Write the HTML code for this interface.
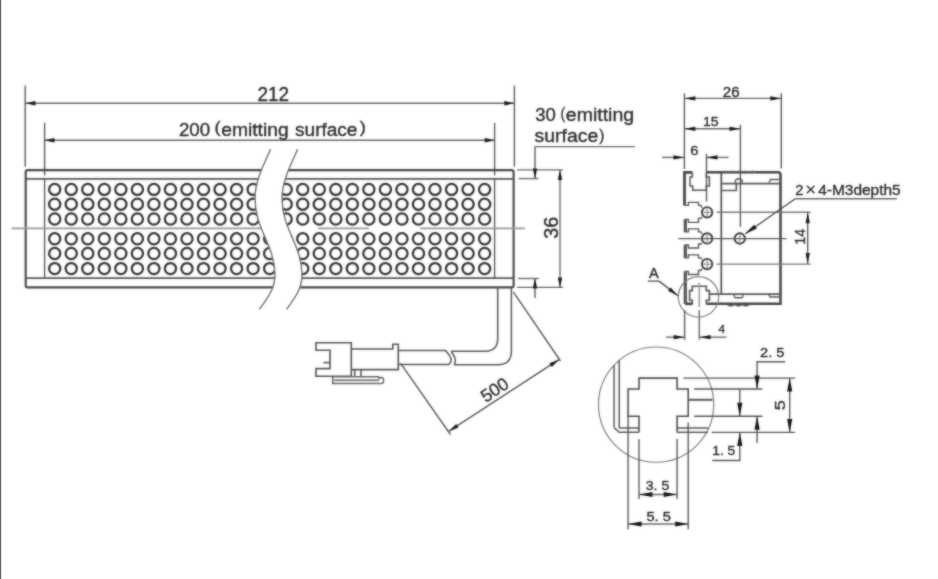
<!DOCTYPE html>
<html><head><meta charset="utf-8"><style>
html,body{margin:0;padding:0;background:#fff;}
svg{display:block;}

text{font-family:"Liberation Sans",sans-serif;}
</style></head><body>
<div style="position:absolute;left:0;top:0;width:1px;height:579px;background:#666;border-right:1px solid #e2e2e2;box-sizing:content-box"></div>
<div id="w"><svg width="938" height="579" viewBox="0 0 938 579">
<defs><filter id="f" filterUnits="userSpaceOnUse" x="0" y="0" width="938" height="579"><feGaussianBlur in="SourceGraphic" stdDeviation="1" result="b"/><feComposite in="SourceGraphic" in2="b" operator="arithmetic" k1="0" k2="0.45" k3="0.55" k4="0"/></filter></defs>
<g filter="url(#f)">
<line x1="25.2" y1="85.5" x2="25.2" y2="166.7" stroke="#555" stroke-width="1.375"/>
<line x1="514.4" y1="85.5" x2="514.4" y2="166.7" stroke="#555" stroke-width="1.375"/>
<line x1="44.6" y1="122.8" x2="44.6" y2="175.4" stroke="#555" stroke-width="1.375"/>
<line x1="494.6" y1="122.8" x2="494.6" y2="175.4" stroke="#555" stroke-width="1.375"/>
<line x1="25.5" y1="103.3" x2="514.3" y2="103.3" stroke="#666" stroke-width="1.375"/>
<polygon points="25.50,103.30 35.50,101.10 35.50,105.50" fill="#151515"/>
<polygon points="514.30,103.30 504.30,105.50 504.30,101.10" fill="#151515"/>
<line x1="44.5" y1="140.3" x2="494.7" y2="140.3" stroke="#666" stroke-width="1.375"/>
<polygon points="44.50,140.30 54.50,138.10 54.50,142.50" fill="#151515"/>
<polygon points="494.70,140.30 484.70,142.50 484.70,138.10" fill="#151515"/>
<rect x="25.7" y="170.1" width="487.9" height="117.3" rx="2" fill="none" stroke="#444" stroke-width="2.1"/>
<line x1="25.7" y1="178.9" x2="513.6" y2="178.9" stroke="#555" stroke-width="1.75"/>
<line x1="25.7" y1="278.2" x2="513.6" y2="278.2" stroke="#555" stroke-width="1.75"/>
<line x1="44.6" y1="178.7" x2="44.6" y2="278.4" stroke="#555" stroke-width="1.375"/>
<line x1="494.6" y1="178.7" x2="494.6" y2="278.4" stroke="#555" stroke-width="1.375"/>
<circle cx="54.7" cy="189.4" r="5.6" stroke="#333" stroke-width="2.25" fill="none"/>
<circle cx="54.7" cy="204.2" r="5.6" stroke="#333" stroke-width="2.25" fill="none"/>
<circle cx="54.7" cy="219.0" r="5.6" stroke="#333" stroke-width="2.25" fill="none"/>
<circle cx="54.7" cy="238.8" r="5.6" stroke="#333" stroke-width="2.25" fill="none"/>
<circle cx="54.7" cy="253.5" r="5.6" stroke="#333" stroke-width="2.25" fill="none"/>
<circle cx="54.7" cy="268.6" r="5.6" stroke="#333" stroke-width="2.25" fill="none"/>
<circle cx="71.23" cy="189.4" r="5.6" stroke="#333" stroke-width="2.25" fill="none"/>
<circle cx="71.23" cy="204.2" r="5.6" stroke="#333" stroke-width="2.25" fill="none"/>
<circle cx="71.23" cy="219.0" r="5.6" stroke="#333" stroke-width="2.25" fill="none"/>
<circle cx="71.23" cy="238.8" r="5.6" stroke="#333" stroke-width="2.25" fill="none"/>
<circle cx="71.23" cy="253.5" r="5.6" stroke="#333" stroke-width="2.25" fill="none"/>
<circle cx="71.23" cy="268.6" r="5.6" stroke="#333" stroke-width="2.25" fill="none"/>
<circle cx="87.77" cy="189.4" r="5.6" stroke="#333" stroke-width="2.25" fill="none"/>
<circle cx="87.77" cy="204.2" r="5.6" stroke="#333" stroke-width="2.25" fill="none"/>
<circle cx="87.77" cy="219.0" r="5.6" stroke="#333" stroke-width="2.25" fill="none"/>
<circle cx="87.77" cy="238.8" r="5.6" stroke="#333" stroke-width="2.25" fill="none"/>
<circle cx="87.77" cy="253.5" r="5.6" stroke="#333" stroke-width="2.25" fill="none"/>
<circle cx="87.77" cy="268.6" r="5.6" stroke="#333" stroke-width="2.25" fill="none"/>
<circle cx="104.31" cy="189.4" r="5.6" stroke="#333" stroke-width="2.25" fill="none"/>
<circle cx="104.31" cy="204.2" r="5.6" stroke="#333" stroke-width="2.25" fill="none"/>
<circle cx="104.31" cy="219.0" r="5.6" stroke="#333" stroke-width="2.25" fill="none"/>
<circle cx="104.31" cy="238.8" r="5.6" stroke="#333" stroke-width="2.25" fill="none"/>
<circle cx="104.31" cy="253.5" r="5.6" stroke="#333" stroke-width="2.25" fill="none"/>
<circle cx="104.31" cy="268.6" r="5.6" stroke="#333" stroke-width="2.25" fill="none"/>
<circle cx="120.84" cy="189.4" r="5.6" stroke="#333" stroke-width="2.25" fill="none"/>
<circle cx="120.84" cy="204.2" r="5.6" stroke="#333" stroke-width="2.25" fill="none"/>
<circle cx="120.84" cy="219.0" r="5.6" stroke="#333" stroke-width="2.25" fill="none"/>
<circle cx="120.84" cy="238.8" r="5.6" stroke="#333" stroke-width="2.25" fill="none"/>
<circle cx="120.84" cy="253.5" r="5.6" stroke="#333" stroke-width="2.25" fill="none"/>
<circle cx="120.84" cy="268.6" r="5.6" stroke="#333" stroke-width="2.25" fill="none"/>
<circle cx="137.38" cy="189.4" r="5.6" stroke="#333" stroke-width="2.25" fill="none"/>
<circle cx="137.38" cy="204.2" r="5.6" stroke="#333" stroke-width="2.25" fill="none"/>
<circle cx="137.38" cy="219.0" r="5.6" stroke="#333" stroke-width="2.25" fill="none"/>
<circle cx="137.38" cy="238.8" r="5.6" stroke="#333" stroke-width="2.25" fill="none"/>
<circle cx="137.38" cy="253.5" r="5.6" stroke="#333" stroke-width="2.25" fill="none"/>
<circle cx="137.38" cy="268.6" r="5.6" stroke="#333" stroke-width="2.25" fill="none"/>
<circle cx="153.91" cy="189.4" r="5.6" stroke="#333" stroke-width="2.25" fill="none"/>
<circle cx="153.91" cy="204.2" r="5.6" stroke="#333" stroke-width="2.25" fill="none"/>
<circle cx="153.91" cy="219.0" r="5.6" stroke="#333" stroke-width="2.25" fill="none"/>
<circle cx="153.91" cy="238.8" r="5.6" stroke="#333" stroke-width="2.25" fill="none"/>
<circle cx="153.91" cy="253.5" r="5.6" stroke="#333" stroke-width="2.25" fill="none"/>
<circle cx="153.91" cy="268.6" r="5.6" stroke="#333" stroke-width="2.25" fill="none"/>
<circle cx="170.44" cy="189.4" r="5.6" stroke="#333" stroke-width="2.25" fill="none"/>
<circle cx="170.44" cy="204.2" r="5.6" stroke="#333" stroke-width="2.25" fill="none"/>
<circle cx="170.44" cy="219.0" r="5.6" stroke="#333" stroke-width="2.25" fill="none"/>
<circle cx="170.44" cy="238.8" r="5.6" stroke="#333" stroke-width="2.25" fill="none"/>
<circle cx="170.44" cy="253.5" r="5.6" stroke="#333" stroke-width="2.25" fill="none"/>
<circle cx="170.44" cy="268.6" r="5.6" stroke="#333" stroke-width="2.25" fill="none"/>
<circle cx="186.98" cy="189.4" r="5.6" stroke="#333" stroke-width="2.25" fill="none"/>
<circle cx="186.98" cy="204.2" r="5.6" stroke="#333" stroke-width="2.25" fill="none"/>
<circle cx="186.98" cy="219.0" r="5.6" stroke="#333" stroke-width="2.25" fill="none"/>
<circle cx="186.98" cy="238.8" r="5.6" stroke="#333" stroke-width="2.25" fill="none"/>
<circle cx="186.98" cy="253.5" r="5.6" stroke="#333" stroke-width="2.25" fill="none"/>
<circle cx="186.98" cy="268.6" r="5.6" stroke="#333" stroke-width="2.25" fill="none"/>
<circle cx="203.51" cy="189.4" r="5.6" stroke="#333" stroke-width="2.25" fill="none"/>
<circle cx="203.51" cy="204.2" r="5.6" stroke="#333" stroke-width="2.25" fill="none"/>
<circle cx="203.51" cy="219.0" r="5.6" stroke="#333" stroke-width="2.25" fill="none"/>
<circle cx="203.51" cy="238.8" r="5.6" stroke="#333" stroke-width="2.25" fill="none"/>
<circle cx="203.51" cy="253.5" r="5.6" stroke="#333" stroke-width="2.25" fill="none"/>
<circle cx="203.51" cy="268.6" r="5.6" stroke="#333" stroke-width="2.25" fill="none"/>
<circle cx="220.05" cy="189.4" r="5.6" stroke="#333" stroke-width="2.25" fill="none"/>
<circle cx="220.05" cy="204.2" r="5.6" stroke="#333" stroke-width="2.25" fill="none"/>
<circle cx="220.05" cy="219.0" r="5.6" stroke="#333" stroke-width="2.25" fill="none"/>
<circle cx="220.05" cy="238.8" r="5.6" stroke="#333" stroke-width="2.25" fill="none"/>
<circle cx="220.05" cy="253.5" r="5.6" stroke="#333" stroke-width="2.25" fill="none"/>
<circle cx="220.05" cy="268.6" r="5.6" stroke="#333" stroke-width="2.25" fill="none"/>
<circle cx="236.58" cy="189.4" r="5.6" stroke="#333" stroke-width="2.25" fill="none"/>
<circle cx="236.58" cy="204.2" r="5.6" stroke="#333" stroke-width="2.25" fill="none"/>
<circle cx="236.58" cy="219.0" r="5.6" stroke="#333" stroke-width="2.25" fill="none"/>
<circle cx="236.58" cy="238.8" r="5.6" stroke="#333" stroke-width="2.25" fill="none"/>
<circle cx="236.58" cy="253.5" r="5.6" stroke="#333" stroke-width="2.25" fill="none"/>
<circle cx="236.58" cy="268.6" r="5.6" stroke="#333" stroke-width="2.25" fill="none"/>
<circle cx="253.12" cy="189.4" r="5.6" stroke="#333" stroke-width="2.25" fill="none"/>
<circle cx="253.12" cy="204.2" r="5.6" stroke="#333" stroke-width="2.25" fill="none"/>
<circle cx="253.12" cy="219.0" r="5.6" stroke="#333" stroke-width="2.25" fill="none"/>
<circle cx="253.12" cy="238.8" r="5.6" stroke="#333" stroke-width="2.25" fill="none"/>
<circle cx="253.12" cy="253.5" r="5.6" stroke="#333" stroke-width="2.25" fill="none"/>
<circle cx="253.12" cy="268.6" r="5.6" stroke="#333" stroke-width="2.25" fill="none"/>
<circle cx="269.66" cy="189.4" r="5.6" stroke="#333" stroke-width="2.25" fill="none"/>
<circle cx="269.66" cy="204.2" r="5.6" stroke="#333" stroke-width="2.25" fill="none"/>
<circle cx="269.66" cy="219.0" r="5.6" stroke="#333" stroke-width="2.25" fill="none"/>
<circle cx="269.66" cy="238.8" r="5.6" stroke="#333" stroke-width="2.25" fill="none"/>
<circle cx="269.66" cy="253.5" r="5.6" stroke="#333" stroke-width="2.25" fill="none"/>
<circle cx="269.66" cy="268.6" r="5.6" stroke="#333" stroke-width="2.25" fill="none"/>
<circle cx="286.19" cy="189.4" r="5.6" stroke="#333" stroke-width="2.25" fill="none"/>
<circle cx="286.19" cy="204.2" r="5.6" stroke="#333" stroke-width="2.25" fill="none"/>
<circle cx="286.19" cy="219.0" r="5.6" stroke="#333" stroke-width="2.25" fill="none"/>
<circle cx="286.19" cy="238.8" r="5.6" stroke="#333" stroke-width="2.25" fill="none"/>
<circle cx="286.19" cy="253.5" r="5.6" stroke="#333" stroke-width="2.25" fill="none"/>
<circle cx="286.19" cy="268.6" r="5.6" stroke="#333" stroke-width="2.25" fill="none"/>
<circle cx="302.73" cy="189.4" r="5.6" stroke="#333" stroke-width="2.25" fill="none"/>
<circle cx="302.73" cy="204.2" r="5.6" stroke="#333" stroke-width="2.25" fill="none"/>
<circle cx="302.73" cy="219.0" r="5.6" stroke="#333" stroke-width="2.25" fill="none"/>
<circle cx="302.73" cy="238.8" r="5.6" stroke="#333" stroke-width="2.25" fill="none"/>
<circle cx="302.73" cy="253.5" r="5.6" stroke="#333" stroke-width="2.25" fill="none"/>
<circle cx="302.73" cy="268.6" r="5.6" stroke="#333" stroke-width="2.25" fill="none"/>
<circle cx="319.26" cy="189.4" r="5.6" stroke="#333" stroke-width="2.25" fill="none"/>
<circle cx="319.26" cy="204.2" r="5.6" stroke="#333" stroke-width="2.25" fill="none"/>
<circle cx="319.26" cy="219.0" r="5.6" stroke="#333" stroke-width="2.25" fill="none"/>
<circle cx="319.26" cy="238.8" r="5.6" stroke="#333" stroke-width="2.25" fill="none"/>
<circle cx="319.26" cy="253.5" r="5.6" stroke="#333" stroke-width="2.25" fill="none"/>
<circle cx="319.26" cy="268.6" r="5.6" stroke="#333" stroke-width="2.25" fill="none"/>
<circle cx="335.8" cy="189.4" r="5.6" stroke="#333" stroke-width="2.25" fill="none"/>
<circle cx="335.8" cy="204.2" r="5.6" stroke="#333" stroke-width="2.25" fill="none"/>
<circle cx="335.8" cy="219.0" r="5.6" stroke="#333" stroke-width="2.25" fill="none"/>
<circle cx="335.8" cy="238.8" r="5.6" stroke="#333" stroke-width="2.25" fill="none"/>
<circle cx="335.8" cy="253.5" r="5.6" stroke="#333" stroke-width="2.25" fill="none"/>
<circle cx="335.8" cy="268.6" r="5.6" stroke="#333" stroke-width="2.25" fill="none"/>
<circle cx="352.33" cy="189.4" r="5.6" stroke="#333" stroke-width="2.25" fill="none"/>
<circle cx="352.33" cy="204.2" r="5.6" stroke="#333" stroke-width="2.25" fill="none"/>
<circle cx="352.33" cy="219.0" r="5.6" stroke="#333" stroke-width="2.25" fill="none"/>
<circle cx="352.33" cy="238.8" r="5.6" stroke="#333" stroke-width="2.25" fill="none"/>
<circle cx="352.33" cy="253.5" r="5.6" stroke="#333" stroke-width="2.25" fill="none"/>
<circle cx="352.33" cy="268.6" r="5.6" stroke="#333" stroke-width="2.25" fill="none"/>
<circle cx="368.87" cy="189.4" r="5.6" stroke="#333" stroke-width="2.25" fill="none"/>
<circle cx="368.87" cy="204.2" r="5.6" stroke="#333" stroke-width="2.25" fill="none"/>
<circle cx="368.87" cy="219.0" r="5.6" stroke="#333" stroke-width="2.25" fill="none"/>
<circle cx="368.87" cy="238.8" r="5.6" stroke="#333" stroke-width="2.25" fill="none"/>
<circle cx="368.87" cy="253.5" r="5.6" stroke="#333" stroke-width="2.25" fill="none"/>
<circle cx="368.87" cy="268.6" r="5.6" stroke="#333" stroke-width="2.25" fill="none"/>
<circle cx="385.4" cy="189.4" r="5.6" stroke="#333" stroke-width="2.25" fill="none"/>
<circle cx="385.4" cy="204.2" r="5.6" stroke="#333" stroke-width="2.25" fill="none"/>
<circle cx="385.4" cy="219.0" r="5.6" stroke="#333" stroke-width="2.25" fill="none"/>
<circle cx="385.4" cy="238.8" r="5.6" stroke="#333" stroke-width="2.25" fill="none"/>
<circle cx="385.4" cy="253.5" r="5.6" stroke="#333" stroke-width="2.25" fill="none"/>
<circle cx="385.4" cy="268.6" r="5.6" stroke="#333" stroke-width="2.25" fill="none"/>
<circle cx="401.94" cy="189.4" r="5.6" stroke="#333" stroke-width="2.25" fill="none"/>
<circle cx="401.94" cy="204.2" r="5.6" stroke="#333" stroke-width="2.25" fill="none"/>
<circle cx="401.94" cy="219.0" r="5.6" stroke="#333" stroke-width="2.25" fill="none"/>
<circle cx="401.94" cy="238.8" r="5.6" stroke="#333" stroke-width="2.25" fill="none"/>
<circle cx="401.94" cy="253.5" r="5.6" stroke="#333" stroke-width="2.25" fill="none"/>
<circle cx="401.94" cy="268.6" r="5.6" stroke="#333" stroke-width="2.25" fill="none"/>
<circle cx="418.47" cy="189.4" r="5.6" stroke="#333" stroke-width="2.25" fill="none"/>
<circle cx="418.47" cy="204.2" r="5.6" stroke="#333" stroke-width="2.25" fill="none"/>
<circle cx="418.47" cy="219.0" r="5.6" stroke="#333" stroke-width="2.25" fill="none"/>
<circle cx="418.47" cy="238.8" r="5.6" stroke="#333" stroke-width="2.25" fill="none"/>
<circle cx="418.47" cy="253.5" r="5.6" stroke="#333" stroke-width="2.25" fill="none"/>
<circle cx="418.47" cy="268.6" r="5.6" stroke="#333" stroke-width="2.25" fill="none"/>
<circle cx="435.0" cy="189.4" r="5.6" stroke="#333" stroke-width="2.25" fill="none"/>
<circle cx="435.0" cy="204.2" r="5.6" stroke="#333" stroke-width="2.25" fill="none"/>
<circle cx="435.0" cy="219.0" r="5.6" stroke="#333" stroke-width="2.25" fill="none"/>
<circle cx="435.0" cy="238.8" r="5.6" stroke="#333" stroke-width="2.25" fill="none"/>
<circle cx="435.0" cy="253.5" r="5.6" stroke="#333" stroke-width="2.25" fill="none"/>
<circle cx="435.0" cy="268.6" r="5.6" stroke="#333" stroke-width="2.25" fill="none"/>
<circle cx="451.54" cy="189.4" r="5.6" stroke="#333" stroke-width="2.25" fill="none"/>
<circle cx="451.54" cy="204.2" r="5.6" stroke="#333" stroke-width="2.25" fill="none"/>
<circle cx="451.54" cy="219.0" r="5.6" stroke="#333" stroke-width="2.25" fill="none"/>
<circle cx="451.54" cy="238.8" r="5.6" stroke="#333" stroke-width="2.25" fill="none"/>
<circle cx="451.54" cy="253.5" r="5.6" stroke="#333" stroke-width="2.25" fill="none"/>
<circle cx="451.54" cy="268.6" r="5.6" stroke="#333" stroke-width="2.25" fill="none"/>
<circle cx="468.07" cy="189.4" r="5.6" stroke="#333" stroke-width="2.25" fill="none"/>
<circle cx="468.07" cy="204.2" r="5.6" stroke="#333" stroke-width="2.25" fill="none"/>
<circle cx="468.07" cy="219.0" r="5.6" stroke="#333" stroke-width="2.25" fill="none"/>
<circle cx="468.07" cy="238.8" r="5.6" stroke="#333" stroke-width="2.25" fill="none"/>
<circle cx="468.07" cy="253.5" r="5.6" stroke="#333" stroke-width="2.25" fill="none"/>
<circle cx="468.07" cy="268.6" r="5.6" stroke="#333" stroke-width="2.25" fill="none"/>
<circle cx="484.61" cy="189.4" r="5.6" stroke="#333" stroke-width="2.25" fill="none"/>
<circle cx="484.61" cy="204.2" r="5.6" stroke="#333" stroke-width="2.25" fill="none"/>
<circle cx="484.61" cy="219.0" r="5.6" stroke="#333" stroke-width="2.25" fill="none"/>
<circle cx="484.61" cy="238.8" r="5.6" stroke="#333" stroke-width="2.25" fill="none"/>
<circle cx="484.61" cy="253.5" r="5.6" stroke="#333" stroke-width="2.25" fill="none"/>
<circle cx="484.61" cy="268.6" r="5.6" stroke="#333" stroke-width="2.25" fill="none"/>
<line x1="11.5" y1="228.4" x2="267" y2="228.4" stroke="#999" stroke-width="1.875"/>
<line x1="318" y1="228.4" x2="369" y2="228.4" stroke="#999" stroke-width="1.875"/>
<line x1="420" y1="228.4" x2="525" y2="228.4" stroke="#999" stroke-width="1.875"/>
<path d="M270.6,149.3 C263,166 255,182 255,198 C255,230 275,245 275,275 C275,290 266,300 259.4,309.4 L286.4,309.4 C293.0,300 302.0,290 302.0,275 C302.0,245 282.0,230 282.0,198 C282.0,182 290.0,166 297.6,149.3 Z" fill="#fff" stroke="none"/>
<path d="M270.6,149.3 C263,166 255,182 255,198 C255,230 275,245 275,275 C275,290 266,300 259.4,309.4" stroke="#555" stroke-width="1.375" fill="none"/>
<path d="M297.6,149.3 C290.0,166 282.0,182 282.0,198 C282.0,230 302.0,245 302.0,275 C302.0,290 293.0,300 286.4,309.4" stroke="#555" stroke-width="1.375" fill="none"/>
<line x1="517" y1="169.9" x2="563" y2="169.9" stroke="#666" stroke-width="1.375"/>
<line x1="518.5" y1="178.6" x2="538.5" y2="178.6" stroke="#666" stroke-width="1.375"/>
<line x1="518" y1="278.5" x2="539" y2="278.5" stroke="#666" stroke-width="1.375"/>
<line x1="517" y1="287.4" x2="563" y2="287.4" stroke="#666" stroke-width="1.375"/>
<line x1="560" y1="170" x2="560" y2="287.4" stroke="#666" stroke-width="1.375"/>
<polygon points="560.00,170.00 562.20,180.00 557.80,180.00" fill="#151515"/>
<polygon points="560.00,287.40 557.80,277.40 562.20,277.40" fill="#151515"/>
<text x="0" y="0" font-size="100" fill="#2b2b2b" stroke="#2b2b2b" stroke-width="1.77" transform="translate(551,227.7) rotate(-90) scale(0.19709,0.19718) translate(-55.5,34.5)">36</text>
<line x1="535" y1="146.6" x2="535" y2="178.6" stroke="#555" stroke-width="1.375"/>
<polygon points="535.00,178.60 532.80,168.60 537.20,168.60" fill="#151515"/>
<line x1="535" y1="146.6" x2="635" y2="146.6" stroke="#666" stroke-width="1.375"/>
<line x1="535" y1="278.5" x2="535" y2="298" stroke="#555" stroke-width="1.375"/>
<polygon points="535.00,278.50 537.20,288.50 532.80,288.50" fill="#151515"/>
<text x="0" y="0" font-size="100" fill="#2b2b2b" stroke="#2b2b2b" stroke-width="1.94" transform="translate(535.158,121.220) scale(0.18544,0.18028)">30</text>
<text x="0" y="0" font-size="100" fill="#2b2b2b" stroke="#2b2b2b" stroke-width="2.14" transform="translate(560.446,119.160) scale(0.14231,0.16383)">(</text>
<text x="0" y="0" font-size="100" fill="#2b2b2b" stroke="#2b2b2b" stroke-width="1.94" transform="translate(565.819,121.220) scale(0.19529,0.18028)">emitting</text>
<text x="0" y="0" font-size="100" fill="#2b2b2b" stroke="#2b2b2b" stroke-width="1.94" transform="translate(534.618,142.220) scale(0.19406,0.18028)">surface</text>
<text x="0" y="0" font-size="100" fill="#2b2b2b" stroke="#2b2b2b" stroke-width="2.12" transform="translate(599.346,140.737) scale(0.15385,0.16489)">)</text>
<text x="0" y="0" font-size="100" fill="#2b2b2b" stroke="#2b2b2b" stroke-width="1.76" transform="translate(257.554,101.100) scale(0.18917,0.19857)">212</text>
<text x="0" y="0" font-size="100" fill="#2b2b2b" stroke="#2b2b2b" stroke-width="1.87" transform="translate(178.966,135.713) scale(0.18671,0.18732)">200</text>
<text x="0" y="0" font-size="100" fill="#2b2b2b" stroke="#2b2b2b" stroke-width="2.12" transform="translate(214.515,133.237) scale(0.18077,0.16489)">(</text>
<text x="0" y="0" font-size="100" fill="#2b2b2b" stroke="#2b2b2b" stroke-width="1.87" transform="translate(221.229,135.713) scale(0.19265,0.18732)">emitting</text>
<text x="0" y="0" font-size="100" fill="#2b2b2b" stroke="#2b2b2b" stroke-width="1.87" transform="translate(295.028,135.713) scale(0.19062,0.18732)">surface</text>
<text x="0" y="0" font-size="100" fill="#2b2b2b" stroke="#2b2b2b" stroke-width="2.12" transform="translate(359.715,133.237) scale(0.18462,0.16489)">)</text>
<path d="M497.7,287.4 L497.7,338.5 Q497.7,351.2 485,351.2 L451.1,351.2" stroke="#555" stroke-width="1.5" fill="none"/>
<path d="M511.4,287.4 L511.4,351 Q511.4,364.7 497.7,364.7 L454.2,364.7" stroke="#555" stroke-width="1.5" fill="none"/>
<path d="M451.1,351.2 C453,354 456,358 455.4,361 C455,363 454.5,364 454.2,364.7" stroke="#555" stroke-width="1.5" fill="none"/>
<path d="M398.3,350.6 L445.5,350.6 C448,353 451.5,358 451.2,360.2 C451,362 449.5,364 448.7,364.6 L398.3,364.6" stroke="#555" stroke-width="1.5" fill="none"/>
<polygon points="316,342.7 351.3,342.7 351.3,376.3 316,376.3 316,368.6 330,368.6 330,350.2 316,350.2" stroke="#555" stroke-width="1.625" fill="none" stroke-linejoin="miter"/>
<line x1="323.3" y1="362.6" x2="330" y2="362.6" stroke="#555" stroke-width="1.625"/>
<polyline points="351.3,349 392.8,349 392.8,344.3 398.3,344.3 398.3,369.6 351.3,369.6" stroke="#555" stroke-width="1.625" fill="none" stroke-linejoin="miter"/>
<polyline points="354.7,369.6 354.7,376.3" stroke="#555" stroke-width="1.5" fill="none" stroke-linejoin="miter"/>
<polyline points="361,369.6 361,376.6" stroke="#555" stroke-width="1.5" fill="none" stroke-linejoin="miter"/>
<path d="M332.7,376.8 L378.5,376.8 L379.5,378.6 Q380.5,377.2 382.4,377.6 Q383.8,378.5 383.6,381 Q383.4,383.6 381,383.6 L332.7,383.6 Z" stroke="#555" stroke-width="1.5" fill="#fff"/>
<line x1="334" y1="380.2" x2="379" y2="380.2" stroke="#777" stroke-width="1.875"/>
<line x1="400.6" y1="363.4" x2="450.5" y2="434.5" stroke="#555" stroke-width="1.375"/>
<line x1="513.3" y1="291.8" x2="560.5" y2="361" stroke="#555" stroke-width="1.375"/>
<line x1="449" y1="431.2" x2="558.9" y2="359.7" stroke="#555" stroke-width="1.375"/>
<polygon points="449.00,431.20 456.18,423.90 458.58,427.59" fill="#151515"/>
<polygon points="558.90,359.70 551.72,367.00 549.32,363.31" fill="#151515"/>
<text x="0" y="0" font-size="100" fill="#2b2b2b" stroke="#2b2b2b" stroke-width="1.97" transform="translate(494.6,389.8) rotate(-33.3) scale(0.17610,0.17746) translate(-83.5,34.5)">500</text>
<line x1="684.4" y1="93.3" x2="684.4" y2="169" stroke="#555" stroke-width="1.375"/>
<line x1="781.3" y1="93.3" x2="781.3" y2="168.5" stroke="#555" stroke-width="1.375"/>
<line x1="684.4" y1="98.4" x2="781.3" y2="98.4" stroke="#666" stroke-width="1.375"/>
<polygon points="684.40,98.40 695.40,96.30 695.40,100.50" fill="#151515"/>
<polygon points="781.30,98.40 770.30,100.50 770.30,96.30" fill="#151515"/>
<text x="0" y="0" font-size="100" fill="#2b2b2b" stroke="#2b2b2b" stroke-width="2.34" transform="translate(722.845,96.551) scale(0.15098,0.14930)">26</text>
<line x1="740.4" y1="124.8" x2="740.4" y2="226.8" stroke="#555" stroke-width="1.375"/>
<line x1="684.4" y1="128.8" x2="740.4" y2="128.8" stroke="#666" stroke-width="1.375"/>
<polygon points="684.40,128.80 695.40,126.70 695.40,130.90" fill="#151515"/>
<polygon points="740.40,128.80 729.40,130.90 729.40,126.70" fill="#151515"/>
<text x="0" y="0" font-size="100" fill="#2b2b2b" stroke="#2b2b2b" stroke-width="2.66" transform="translate(702.969,126.469) scale(0.14141,0.13143)">15</text>
<line x1="706.5" y1="153.9" x2="706.5" y2="201.5" stroke="#555" stroke-width="1.375"/>
<line x1="662" y1="157.4" x2="684.4" y2="157.4" stroke="#666" stroke-width="1.375"/>
<polygon points="684.40,157.40 673.40,159.50 673.40,155.30" fill="#151515"/>
<line x1="728.6" y1="157.4" x2="706.5" y2="157.4" stroke="#666" stroke-width="1.375"/>
<polygon points="706.50,157.40 717.50,155.30 717.50,159.50" fill="#151515"/>
<text x="0" y="0" font-size="100" fill="#2b2b2b" stroke="#2b2b2b" stroke-width="2.70" transform="translate(690.261,154.670) scale(0.14783,0.12958)">6</text>
<path d="M706.3,172.2 L778,172.2 Q780.5,172.2 780.5,175 L780.5,303.8 L706.3,303.8" stroke="#444" stroke-width="2.5" fill="none"/>
<polyline points="692.3,172.4 684.5,172.4 684.5,205.4" stroke="#444" stroke-width="2.75" fill="none" stroke-linejoin="miter"/>
<polyline points="692.3,172.4 692.3,177 690,177 690,186 692.7,186 692.7,190.3 706.3,190.3 706.3,186 709.4,186 709.4,177 706.3,177 706.3,172.4" stroke="#555" stroke-width="1.5" fill="none" stroke-linejoin="miter"/>
<polyline points="684.5,205.4 688.4,205.4 688.4,202.4 698.5,202.4 698.5,205.4 700.9,205.4 702,207.8" stroke="#555" stroke-width="1.375" fill="none" stroke-linejoin="miter"/>
<polyline points="702,216.8 700.9,218.4 698.5,218.4 698.5,222.4 688.4,222.4 688.4,219.4 684.5,219.4" stroke="#555" stroke-width="1.375" fill="none" stroke-linejoin="miter"/>
<polyline points="684.5,231.9 688.4,231.9 688.4,228.9 698.5,228.9 698.5,231.9 700.9,231.9 702,233.9" stroke="#555" stroke-width="1.375" fill="none" stroke-linejoin="miter"/>
<polyline points="702,242.9 700.9,244 698.5,244 698.5,248 688.4,248 688.4,245 684.5,245" stroke="#555" stroke-width="1.375" fill="none" stroke-linejoin="miter"/>
<polyline points="684.5,257.9 688.4,257.9 688.4,254.89999999999998 698.5,254.89999999999998 698.5,257.9 700.9,257.9 702,259.6" stroke="#555" stroke-width="1.375" fill="none" stroke-linejoin="miter"/>
<polyline points="702,268.6 700.9,270.5 698.5,270.5 698.5,274.5 688.4,274.5 688.4,271.5 684.5,271.5" stroke="#555" stroke-width="1.375" fill="none" stroke-linejoin="miter"/>
<line x1="685.3" y1="219.4" x2="685.3" y2="231.9" stroke="#555" stroke-width="3.25"/>
<line x1="685.3" y1="245" x2="685.3" y2="257.9" stroke="#555" stroke-width="3.25"/>
<line x1="685.3" y1="271.5" x2="685.3" y2="303.8" stroke="#555" stroke-width="3.25"/>
<circle cx="707.1" cy="212.3" r="5.2" stroke="#3a3a3a" stroke-width="1.875" fill="none"/>
<line x1="703" y1="212.3" x2="711" y2="212.3" stroke="#777" stroke-width="1.0"/>
<line x1="707.1" y1="208.3" x2="707.1" y2="216.3" stroke="#777" stroke-width="1.0"/>
<circle cx="707.1" cy="238.4" r="5.2" stroke="#3a3a3a" stroke-width="1.875" fill="none"/>
<line x1="703" y1="238.4" x2="711" y2="238.4" stroke="#777" stroke-width="1.0"/>
<line x1="707.1" y1="234.4" x2="707.1" y2="242.4" stroke="#777" stroke-width="1.0"/>
<circle cx="707.1" cy="264.1" r="5.2" stroke="#3a3a3a" stroke-width="1.875" fill="none"/>
<line x1="703" y1="264.1" x2="711" y2="264.1" stroke="#777" stroke-width="1.0"/>
<line x1="707.1" y1="260.1" x2="707.1" y2="268.1" stroke="#777" stroke-width="1.0"/>
<circle cx="739.8" cy="238.5" r="5.2" stroke="#3a3a3a" stroke-width="1.875" fill="none"/>
<line x1="735.8" y1="238.5" x2="743.8" y2="238.5" stroke="#777" stroke-width="1.0"/>
<line x1="739.8" y1="234.5" x2="739.8" y2="242.5" stroke="#777" stroke-width="1.0"/>
<line x1="721.3" y1="172.4" x2="721.3" y2="294.1" stroke="#444" stroke-width="1.625"/>
<line x1="721.3" y1="183.5" x2="780" y2="183.5" stroke="#555" stroke-width="1.75"/>
<polyline points="721.3,190.5 736.3,190.5 736.3,183.5" stroke="#555" stroke-width="1.625" fill="none" stroke-linejoin="miter"/>
<path d="M735.5,183 L735.5,180 Q738.5,177.5 742,180 L742,183" stroke="#555" stroke-width="1.375" fill="none"/>
<path d="M769,182.5 L770.5,179.5 L779,179.5" stroke="#555" stroke-width="1.375" fill="none"/>
<path d="M721.9,172.4 Q724.5,169.6 727.1,172.4" stroke="#666" stroke-width="1.25" fill="none"/>
<path d="M728.9,172.4 Q731.5,169.6 734.1,172.4" stroke="#666" stroke-width="1.25" fill="none"/>
<path d="M735.9,172.4 Q738.5,169.6 741.1,172.4" stroke="#666" stroke-width="1.25" fill="none"/>
<path d="M742.9,172.4 Q745.5,169.6 748.1,172.4" stroke="#666" stroke-width="1.25" fill="none"/>
<path d="M749.9,172.4 Q752.5,169.6 755.1,172.4" stroke="#666" stroke-width="1.25" fill="none"/>
<path d="M727.1,304.4 Q730.7,307.2 734.3000000000001,304.4" stroke="#555" stroke-width="1.375" fill="none"/>
<path d="M734.8,304.4 Q738.4,307.2 742.0,304.4" stroke="#555" stroke-width="1.375" fill="none"/>
<path d="M742.1999999999999,304.4 Q745.8,307.2 749.4,304.4" stroke="#555" stroke-width="1.375" fill="none"/>
<line x1="716.6" y1="212.3" x2="810.6" y2="212.3" stroke="#777" stroke-width="1.375"/>
<line x1="678.3" y1="238.6" x2="786.6" y2="238.6" stroke="#555" stroke-width="1.375"/>
<line x1="716.6" y1="264.1" x2="810.6" y2="264.1" stroke="#777" stroke-width="1.375"/>
<line x1="807.7" y1="212.3" x2="807.7" y2="264.1" stroke="#555" stroke-width="1.375"/>
<polygon points="807.70,212.30 809.80,223.30 805.60,223.30" fill="#151515"/>
<polygon points="807.70,264.10 805.60,253.10 809.80,253.10" fill="#151515"/>
<text x="0" y="0" font-size="100" fill="#2b2b2b" stroke="#2b2b2b" stroke-width="2.37" transform="translate(799.9,236.5) rotate(-90) scale(0.14200,0.14783) translate(-58.0,34.5)">14</text>
<line x1="745.4" y1="233.8" x2="795.2" y2="198.8" stroke="#444" stroke-width="1.375"/>
<polygon points="744.90,234.10 754.16,224.66 756.92,228.59" fill="#151515"/>
<line x1="795.2" y1="198.8" x2="897" y2="198.8" stroke="#666" stroke-width="1.375"/>
<text x="0" y="0" font-size="100" fill="#2b2b2b" stroke="#2b2b2b" stroke-width="2.53" transform="translate(795.161,194.800) scale(0.14783,0.13857)">2</text>
<text x="0" y="0" font-size="100" fill="#2b2b2b" stroke="#2b2b2b" stroke-width="2.45" transform="translate(818.191,194.943) scale(0.15465,0.14265)">4-M3depth5</text>
<line x1="806.9" y1="185.7" x2="814.5" y2="193.3" stroke="#333" stroke-width="1.5"/>
<line x1="814.5" y1="185.7" x2="806.9" y2="193.3" stroke="#333" stroke-width="1.5"/>
<polyline points="685.3,303.8 692.3,303.8 692.3,300.3 689.6,300.3 689.6,290.6 692.3,290.6 692.3,286.3 706.3,286.3 706.3,290.6 709.4,290.6 709.4,300.3 706.3,300.3 706.3,303.8" stroke="#555" stroke-width="1.625" fill="none" stroke-linejoin="miter"/>
<line x1="685.3" y1="303.8" x2="692.3" y2="303.8" stroke="#444" stroke-width="2.75"/>
<line x1="709.4" y1="294.1" x2="780.5" y2="294.1" stroke="#555" stroke-width="1.75"/>
<path d="M734.3,294.1 L734.3,296.5 Q734.3,297.8 736,297.8 L741,297.8 Q742.8,297.8 742.8,296.5 L742.8,294.1" stroke="#555" stroke-width="1.375" fill="none"/>
<path d="M768.9,294.1 L770,297 L779,297" stroke="#555" stroke-width="1.375" fill="none"/>
<line x1="699.3" y1="282.8" x2="699.3" y2="307" stroke="#999" stroke-width="1.625"/>
<line x1="699.3" y1="310" x2="699.3" y2="339.8" stroke="#666" stroke-width="1.375"/>
<circle cx="698.5" cy="296.8" r="20.2" stroke="#777" stroke-width="1.125" fill="none"/>
<text x="0" y="0" font-size="100" fill="#2b2b2b" stroke="#2b2b2b" stroke-width="2.54" transform="translate(649.000,278.200) scale(0.14545,0.13768)">A</text>
<line x1="647.8" y1="281.1" x2="659" y2="281.1" stroke="#555" stroke-width="1.375"/>
<line x1="659" y1="281.1" x2="678" y2="295.8" stroke="#444" stroke-width="1.375"/>
<polygon points="678.00,295.80 668.01,290.73 670.58,287.41" fill="#151515"/>
<line x1="684.6" y1="310" x2="684.6" y2="339.8" stroke="#555" stroke-width="1.375"/>
<line x1="665.9" y1="337.2" x2="684.6" y2="337.2" stroke="#666" stroke-width="1.375"/>
<polygon points="684.60,337.20 673.60,339.30 673.60,335.10" fill="#151515"/>
<line x1="726.4" y1="337.2" x2="699.6" y2="337.2" stroke="#666" stroke-width="1.375"/>
<polygon points="699.60,337.20 710.60,335.10 710.60,339.30" fill="#151515"/>
<text x="0" y="0" font-size="100" fill="#2b2b2b" stroke="#2b2b2b" stroke-width="3.13" transform="translate(718.565,333.112) scale(0.11765,0.11176)">4</text>
<circle cx="656.1" cy="404.6" r="57.6" stroke="#777" stroke-width="1.125" fill="none"/>
<line x1="614.1" y1="365.6" x2="614.1" y2="427.6" stroke="#555" stroke-width="1.5"/>
<line x1="619.2" y1="360.2" x2="619.2" y2="428" stroke="#555" stroke-width="1.5"/>
<polyline points="614.1,427.6 619.2,432.3 639,432.3" stroke="#555" stroke-width="1.5" fill="none" stroke-linejoin="miter"/>
<line x1="619.2" y1="428" x2="639" y2="428" stroke="#555" stroke-width="1.5"/>
<polyline points="639,432.3 639,416.3 628.1,416.3 628.1,389 639,389 639,378.1 677.1,378.1 677.1,389 688.2,389 688.2,416.3 677.1,416.3 677.1,432.3" stroke="#4a4a4a" stroke-width="1.562" fill="none" stroke-linejoin="miter"/>
<line x1="677.1" y1="428" x2="708" y2="428" stroke="#555" stroke-width="1.5"/>
<line x1="677.1" y1="432.3" x2="708" y2="432.3" stroke="#555" stroke-width="1.5"/>
<line x1="688.2" y1="399.8" x2="712.6" y2="399.8" stroke="#555" stroke-width="2.0"/>
<line x1="683.3" y1="378.1" x2="795.2" y2="378.1" stroke="#555" stroke-width="1.375"/>
<line x1="694.1" y1="389" x2="762.5" y2="389" stroke="#555" stroke-width="1.375"/>
<line x1="694.1" y1="416.2" x2="762.5" y2="416.2" stroke="#555" stroke-width="1.375"/>
<line x1="711.7" y1="432.4" x2="795.2" y2="432.4" stroke="#555" stroke-width="1.375"/>
<polyline points="785.2,361.8 757.1,361.8 757.1,389" stroke="#555" stroke-width="1.375" fill="none" stroke-linejoin="miter"/>
<polygon points="757.10,389.00 754.50,375.50 759.70,375.50" fill="#151515"/>
<text x="0" y="0" font-size="100" fill="#2b2b2b" stroke="#2b2b2b" stroke-width="2.79" transform="translate(760.069,356.975) scale(0.14620,0.12535)">2. 5</text>
<line x1="739.8" y1="389" x2="739.8" y2="416.2" stroke="#555" stroke-width="1.375"/>
<polygon points="739.80,416.20 737.20,402.70 742.40,402.70" fill="#151515"/>
<line x1="757.1" y1="416.2" x2="757.1" y2="443" stroke="#555" stroke-width="1.375"/>
<polygon points="757.10,416.20 759.70,429.70 754.50,429.70" fill="#151515"/>
<polyline points="712.3,460.5 739.8,460.5 739.8,432.4" stroke="#555" stroke-width="1.375" fill="none" stroke-linejoin="miter"/>
<polygon points="739.80,432.40 742.40,445.90 737.20,445.90" fill="#151515"/>
<text x="0" y="0" font-size="100" fill="#2b2b2b" stroke="#2b2b2b" stroke-width="2.66" transform="translate(712.190,454.669) scale(0.13871,0.13143)">1. 5</text>
<line x1="789.7" y1="378.1" x2="789.7" y2="432.4" stroke="#555" stroke-width="1.375"/>
<polygon points="789.70,378.10 792.30,391.60 787.10,391.60" fill="#151515"/>
<polygon points="789.70,432.40 787.10,418.90 792.30,418.90" fill="#151515"/>
<text x="0" y="0" font-size="100" fill="#2b2b2b" stroke="#2b2b2b" stroke-width="2.36" transform="translate(779.75,405.3) rotate(-90) scale(0.18085,0.14857) translate(-27.5,34.0)">5</text>
<line x1="628.1" y1="416.3" x2="628.1" y2="529.2" stroke="#555" stroke-width="1.375"/>
<line x1="688.2" y1="422.5" x2="688.2" y2="529.2" stroke="#555" stroke-width="1.375"/>
<line x1="639" y1="438.9" x2="639" y2="498.9" stroke="#555" stroke-width="1.375"/>
<line x1="677.1" y1="438.9" x2="677.1" y2="498.9" stroke="#555" stroke-width="1.375"/>
<line x1="639" y1="494.5" x2="677.1" y2="494.5" stroke="#666" stroke-width="1.375"/>
<polygon points="639.00,494.50 652.50,491.90 652.50,497.10" fill="#151515"/>
<polygon points="677.10,494.50 663.60,497.10 663.60,491.90" fill="#151515"/>
<text x="0" y="0" font-size="100" fill="#2b2b2b" stroke="#2b2b2b" stroke-width="2.67" transform="translate(645.734,489.769) scale(0.14151,0.13099)">3. 5</text>
<line x1="628.1" y1="524" x2="688.6" y2="524" stroke="#666" stroke-width="1.375"/>
<polygon points="628.10,524.00 641.60,521.40 641.60,526.60" fill="#151515"/>
<polygon points="688.60,524.00 675.10,526.60 675.10,521.40" fill="#151515"/>
<text x="0" y="0" font-size="100" fill="#2b2b2b" stroke="#2b2b2b" stroke-width="2.85" transform="translate(646.414,520.877) scale(0.14654,0.12286)">5. 5</text>
</g>
</svg></div>
</body></html>
